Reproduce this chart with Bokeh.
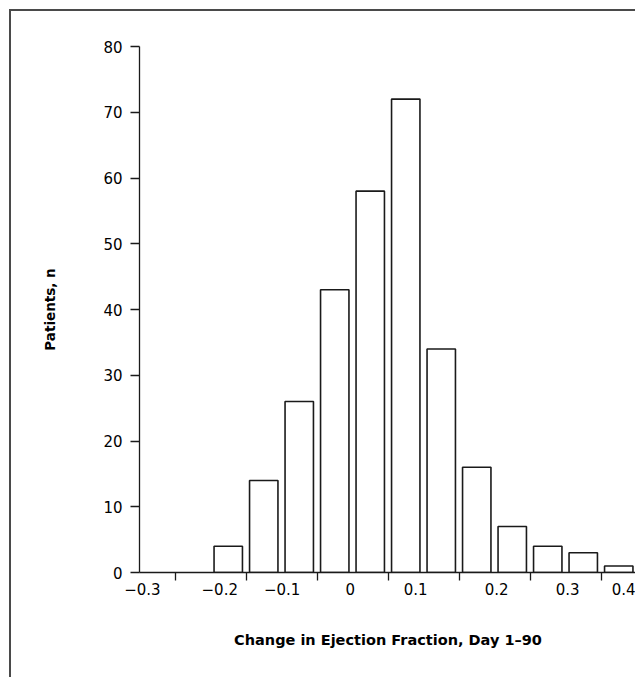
from bokeh.plotting import figure
from bokeh.models import Range1d, FixedTicker
from bokeh.embed import file_html
from bokeh.resources import INLINE

# ---- data ----
BIN_START = [-0.30, -0.25, -0.20, -0.15, -0.10, -0.05, 0.00, 0.05, 0.10, 0.15, 0.20, 0.25, 0.30, 0.35]
BIN_WIDTH = 0.05
COUNTS = [0, 0, 4, 14, 26, 43, 58, 72, 34, 16, 7, 4, 3, 1]

X_LABELS = ["\u22120.3", "\u22120.2", "\u22120.1", "0", "0.1", "0.2", "0.3", "0.4"]
X_LABEL_POS = [-0.296, -0.187, -0.099, -0.003, 0.089, 0.203, 0.303, 0.383]
X_TICKS = [-0.25, -0.15, -0.05, 0.05, 0.15, 0.25, 0.35]
Y_TICKS = [0, 10, 20, 30, 40, 50, 60, 70, 80]

FONT = "DejaVu Sans"
INK = "#1a1a1a"

p = figure(width=626, height=668, output_backend="svg", toolbar_location=None,
           x_range=Range1d(-0.3, 0.4), y_range=Range1d(0, 80),
           min_border_left=128, min_border_right=1, min_border_top=35, min_border_bottom=107)
p.styles = {"border-left": "2px solid #4a4a4a", "border-top": "2px solid #4a4a4a",
            "margin-left": "9px", "margin-top": "9px"}
p.outline_line_color = None
p.xgrid.visible = False
p.ygrid.visible = False
p.background_fill_color = "white"
p.border_fill_color = "white"

xs = [s + BIN_WIDTH / 2 for s, c in zip(BIN_START, COUNTS) if c > 0]
hs = [c for c in COUNTS if c > 0]
p.vbar(x=xs, top=hs, bottom=0, width=0.04, fill_color="white",
       line_color=INK, line_width=1.6)

# x axis
xa = p.xaxis[0]
xa.ticker = FixedTicker(ticks=X_LABEL_POS, minor_ticks=X_TICKS)
xa.major_label_overrides = {pos: lab for pos, lab in zip(X_LABEL_POS, X_LABELS)}
xa.major_tick_line_color = None
xa.major_tick_out = 8
xa.major_tick_in = 0
xa.minor_tick_out = 8
xa.minor_tick_in = 0
xa.minor_tick_line_color = INK
xa.minor_tick_line_width = 1.3
xa.axis_line_color = INK
xa.axis_line_width = 1.3
xa.major_label_standoff = 2
xa.major_label_text_font = FONT
xa.major_label_text_font_size = "15px"
xa.major_label_text_color = "black"
xa.axis_label = "Change in Ejection Fraction, Day 1\u201390"
xa.axis_label_text_font = FONT
xa.axis_label_text_font_style = "bold"
xa.axis_label_text_font_size = "14.5px"
xa.axis_label_text_color = "black"
xa.axis_label_standoff = 34

# y axis
ya = p.yaxis[0]
ya.ticker = FixedTicker(ticks=Y_TICKS, minor_ticks=[])
ya.major_tick_out = 9
ya.major_tick_in = 0
ya.major_tick_line_color = INK
ya.major_tick_line_width = 1.3
ya.axis_line_color = INK
ya.axis_line_width = 1.3
ya.major_label_standoff = 8
ya.major_label_text_font = FONT
ya.major_label_text_font_size = "15px"
ya.major_label_text_color = "black"
ya.axis_label = "Patients, n"
ya.axis_label_text_font = FONT
ya.axis_label_text_font_style = "bold"
ya.axis_label_text_font_size = "13.5px"
ya.axis_label_text_color = "black"
ya.axis_label_standoff = 42

open("out.html", "w").write(file_html(p, INLINE))
